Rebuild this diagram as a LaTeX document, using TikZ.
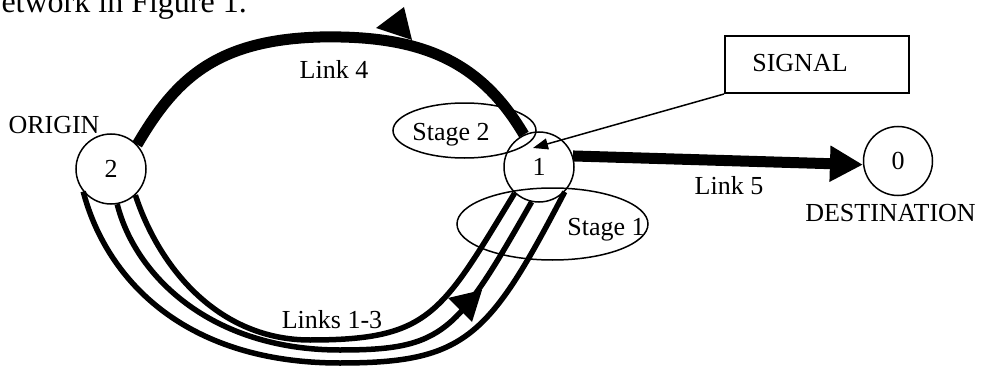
\documentclass[tikz,border=0pt]{standalone}
\usepackage{fontspec}
\setmainfont{Liberation Serif}
\usetikzlibrary{arrows.meta,shapes.geometric}
\tikzset{
  lbl/.style={inner sep=0pt, anchor=base, font=\fontsize{26}{30}\selectfont},
  netnode/.style={circle, draw, line width=1.5pt, minimum size=70pt, inner sep=0pt, font=\fontsize{26}{30}\selectfont},
  stageell/.style={ellipse, draw, line width=1.5pt, inner sep=0pt},
  thicklink/.style={line width=11pt},
  multilink/.style={line width=5.5pt},
  sigbox/.style={draw, line width=2pt, minimum width=184pt, minimum height=57pt, inner sep=0pt}
}
\begin{document}
\begin{tikzpicture}[x=1pt,y=-1pt]
\useasboundingbox (0,0) rectangle (983,369);
% cropped text line at top
\node[inner sep=0pt, anchor=base east, font=\fontsize{32}{36}\selectfont] (toptext) at (247,12.5) {etwork in Figure 1.};

% nodes
\node[netnode] (n2) at (111,169) {2};
\node[netnode] (n1) at (539,167) {1};
\node[netnode, minimum size=69pt] (n0) at (898,161) {0};

\node[lbl] (origin) at (54,133) {ORIGIN};
\node[lbl] (dest) at (890.5,221) {DESTINATION};

% Link 4
\draw[thicklink] (n2.43) .. controls (175,80) and (215,40) .. (320,37)
   .. controls (420,35) and (480,60) .. (n1.115);
\fill (376,28) -- (404,7) -- (412,40) -- cycle;
\node[lbl] (l4) at (334,78) {Link 4};

% Links 1-3
\draw[multilink] (n2.219) .. controls (105,275) and (180,363) .. (340,363)
   .. controls (466,363) and (489,337) .. (n1.316);
\draw[multilink] (n2.280) .. controls (135,275) and (210,350) .. (340,350)
   .. controls (444,350) and (457,333) .. (n1.258);
\draw[multilink] (n2.313) .. controls (160,270) and (220,340) .. (310,340)
   .. controls (430,340) and (441,314) .. (n1.227);
\fill (448,298) -- (482,290) -- (472,322) -- cycle;
\node[lbl] (l13) at (332,328) {Links 1-3};

% Link 5
\draw[thicklink, -{Triangle[length=33pt,width=34pt]}] (n1.18) -- (n0.186);
\node[lbl] (l5) at (729,194) {Link 5};

% Stages
\node[stageell, minimum width=143pt, minimum height=55pt] (st2) at (464.5,130.5) {};
\node[lbl] (st2t) at (451,140) {Stage 2};
\node[stageell, minimum width=191pt, minimum height=72pt] (st1) at (552.5,224) {};
\node[lbl] (st1t) at (606,235) {Stage 1};

% Signal
\node[sigbox] (sig) at (817,64.5) {};
\node[lbl] (sigt) at (800,72) {SIGNAL};
\coordinate (sigtip) at (533,148);
\draw[line width=1.5pt, -{Triangle[length=15pt,width=11pt]}] (sig.south west) -- (sigtip);
\end{tikzpicture}
\end{document}
